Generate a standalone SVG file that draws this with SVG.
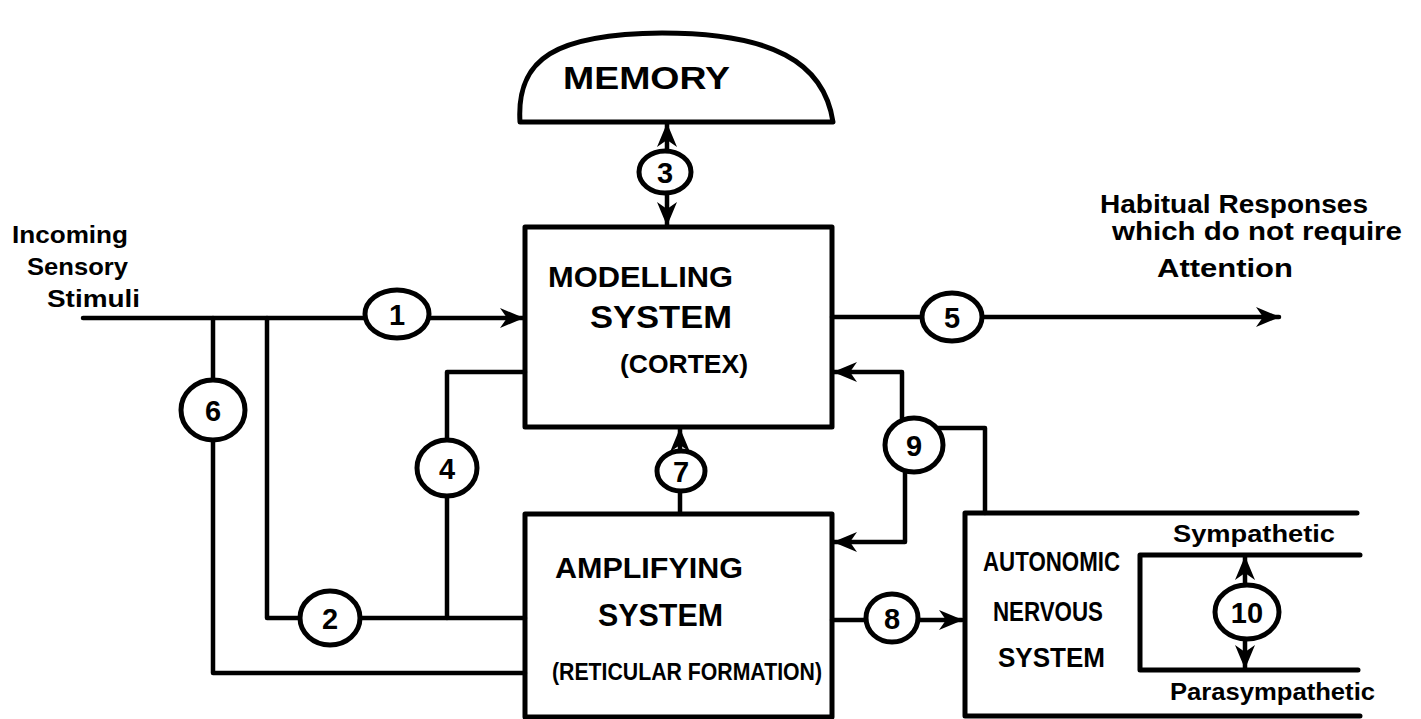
<svg xmlns="http://www.w3.org/2000/svg" width="1421" height="719" viewBox="0 0 1421 719">
<style>
.ln{fill:none;stroke:#000;stroke-width:4.5;stroke-linecap:round;stroke-linejoin:round}
.bx{fill:none;stroke:#000;stroke-width:5;stroke-linecap:round;stroke-linejoin:round}
.ci{fill:#fff;stroke:#000;stroke-width:5}
.t{font-family:"Liberation Sans",Arial,sans-serif;font-weight:bold;fill:#000}
.n{font-family:"Liberation Sans",Arial,sans-serif;font-weight:bold;fill:#000;font-size:29px;text-anchor:middle;dominant-baseline:central}
</style>
<defs>
<marker id="ah" markerUnits="userSpaceOnUse" markerWidth="26" markerHeight="22" refX="23" refY="11" orient="auto-start-reverse">
<path d="M0,1 L24,11 L0,21 L7,11 Z" fill="#000"/>
</marker>
</defs>
<rect width="1421" height="719" fill="#fff"/>

<g id="connectors">
<path class="ln" d="M83,318 H523" marker-end="url(#ah)"/>
<path class="ln" d="M213,318 V673 H525"/>
<path class="ln" d="M267,318 V618 H525"/>
<path class="ln" d="M447,618 V372 H525"/>
<path class="ln" d="M667,124 V225" marker-start="url(#ah)" marker-end="url(#ah)"/>
<path class="ln" d="M680,513 V429" marker-end="url(#ah)"/>
<path class="ln" d="M832,317 H1279" marker-end="url(#ah)"/>
<path class="ln" d="M902,445 V372 H834" marker-end="url(#ah)"/>
<path class="ln" d="M905,445 V542 H834" marker-end="url(#ah)"/>
<path class="ln" d="M935,428 H985 V513"/>
<path class="ln" d="M832,620 H962" marker-end="url(#ah)"/>
<path class="ln" d="M1245,612 V557" marker-end="url(#ah)"/>
<path class="ln" d="M1245,612 V668" marker-end="url(#ah)"/>
</g>

<g id="memory">
<path class="bx" d="M520,122 C516,58 556,34 662,33 C772,33 824,62 833,122 Z" fill="#fff"/>
<text class="t" x="563" y="89" font-size="31" textLength="167" lengthAdjust="spacingAndGlyphs">MEMORY</text>
</g>

<g id="modelling">
<rect class="bx" x="525" y="227" width="307" height="200"/>
<text class="t" x="548" y="287" font-size="30" textLength="185" lengthAdjust="spacingAndGlyphs">MODELLING</text>
<text class="t" x="590" y="328" font-size="31" textLength="142" lengthAdjust="spacingAndGlyphs">SYSTEM</text>
<text class="t" x="620" y="373" font-size="25" textLength="128" lengthAdjust="spacingAndGlyphs">(CORTEX)</text>
</g>

<g id="amplifying">
<rect class="bx" x="525" y="514" width="307" height="203"/>
<text class="t" x="555" y="578" font-size="29" textLength="188" lengthAdjust="spacingAndGlyphs">AMPLIFYING</text>
<text class="t" x="598" y="626" font-size="32" textLength="125" lengthAdjust="spacingAndGlyphs">SYSTEM</text>
<text class="t" x="552" y="680" font-size="24" textLength="270" lengthAdjust="spacingAndGlyphs">(RETICULAR FORMATION)</text>
</g>

<g id="autonomic">
<path class="bx" d="M1357,513 H965 V716 H1360"/>
<path class="bx" d="M1360,555 H1140 V670 H1358"/>
<text class="t" x="983" y="571" font-size="27" textLength="137" lengthAdjust="spacingAndGlyphs">AUTONOMIC</text>
<text class="t" x="993" y="621" font-size="27" textLength="110" lengthAdjust="spacingAndGlyphs">NERVOUS</text>
<text class="t" x="998" y="667" font-size="27" textLength="107" lengthAdjust="spacingAndGlyphs">SYSTEM</text>
<text class="t" x="1173" y="542" font-size="24" textLength="162" lengthAdjust="spacingAndGlyphs">Sympathetic</text>
<text class="t" x="1170" y="700" font-size="24" textLength="205" lengthAdjust="spacingAndGlyphs">Parasympathetic</text>
</g>

<g id="input-label">
<text class="t" x="12" y="243" font-size="24" textLength="116" lengthAdjust="spacingAndGlyphs">Incoming</text>
<text class="t" x="27" y="275" font-size="24" textLength="101" lengthAdjust="spacingAndGlyphs">Sensory</text>
<text class="t" x="47" y="307" font-size="24" textLength="93" lengthAdjust="spacingAndGlyphs">Stimuli</text>
</g>

<g id="output-label">
<text class="t" x="1100" y="213" font-size="26" textLength="268" lengthAdjust="spacingAndGlyphs">Habitual Responses</text>
<text class="t" x="1112" y="240" font-size="26" textLength="290" lengthAdjust="spacingAndGlyphs">which do not require</text>
<text class="t" x="1157" y="277" font-size="26" textLength="136" lengthAdjust="spacingAndGlyphs">Attention</text>
</g>

<g id="c1"><ellipse class="ci" cx="397" cy="314" rx="32" ry="24"/><text class="n" x="397" y="315">1</text></g>
<g id="c2"><ellipse class="ci" cx="330" cy="618" rx="30" ry="27"/><text class="n" x="330" y="619">2</text></g>
<g id="c3"><ellipse class="ci" cx="665" cy="172" rx="26" ry="21"/><text class="n" x="665" y="173">3</text></g>
<g id="c4"><ellipse class="ci" cx="447" cy="468" rx="30" ry="28"/><text class="n" x="447" y="469">4</text></g>
<g id="c5"><ellipse class="ci" cx="952" cy="317" rx="30" ry="24"/><text class="n" x="952" y="318">5</text></g>
<g id="c6"><ellipse class="ci" cx="213" cy="410" rx="32" ry="30"/><text class="n" x="213" y="411">6</text></g>
<g id="c7"><ellipse class="ci" cx="681" cy="471" rx="24" ry="20"/><text class="n" x="681" y="472">7</text></g>
<g id="c8"><ellipse class="ci" cx="892" cy="618" rx="26" ry="24"/><text class="n" x="892" y="619">8</text></g>
<g id="c9"><ellipse class="ci" cx="914" cy="445" rx="29" ry="27"/><text class="n" x="914" y="446">9</text></g>
<g id="c10"><ellipse class="ci" cx="1247" cy="612" rx="32" ry="27"/><text class="n" x="1247" y="613">10</text></g>
</svg>
